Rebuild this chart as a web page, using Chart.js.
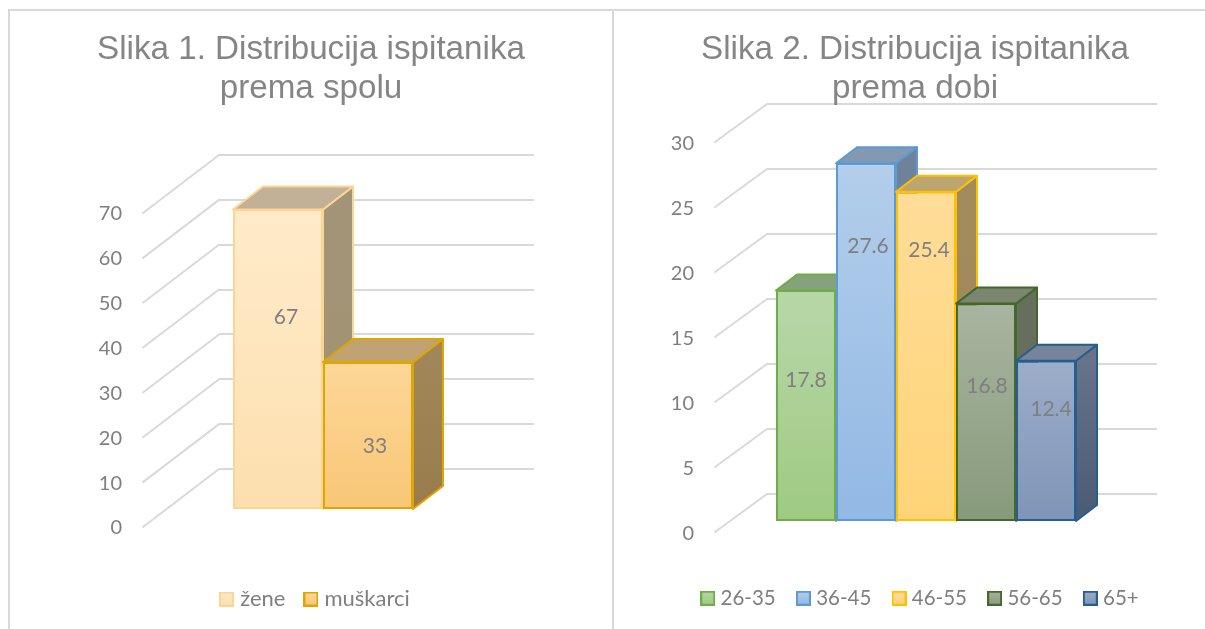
<!DOCTYPE html>
<html><head><meta charset="utf-8">
<script src="https://cdn.jsdelivr.net/npm/chart.js@4"></script>
<style>
html,body{margin:0;padding:0;background:#fff;width:1205px;height:629px;overflow:hidden;position:relative}
canvas{position:absolute;top:0}
.rule{position:absolute;background:#d9d9d9}
</style></head><body>
<div class="rule" style="left:8px;top:9px;width:1197px;height:2px"></div>
<div class="rule" style="left:8px;top:9px;width:2px;height:620px"></div>
<div class="rule" style="left:612px;top:9px;width:2px;height:620px"></div>
<div style="position:absolute;left:10px;top:11px;width:602px;height:618px;overflow:hidden"><canvas id="c1" style="left:-10px;top:-11px" width="622" height="629"></canvas></div>
<div style="position:absolute;left:614px;top:11px;width:591px;height:618px;overflow:hidden"><canvas id="c2" style="left:0;top:-11px" width="602" height="629"></canvas></div>
<script>
// ---- data ----
const title1 = ['Slika 1. Distribucija ispitanika', 'prema spolu'];
const categories1 = ['Spol'];
const seriesNames1 = ['žene', 'muškarci'];
const seriesValues1 = [67, 33];
const title2 = ['Slika 2. Distribucija ispitanika', 'prema dobi'];
const categories2 = ['Dob'];
const seriesNames2 = ['26-35', '36-45', '46-55', '56-65', '65+'];
const seriesValues2 = [17.8, 27.6, 25.4, 16.8, 12.4];
const yTicks1 = [0, 10, 20, 30, 40, 50, 60, 70];
const yTicks2 = [0, 5, 10, 15, 20, 25, 30];

// ---- styles ----
const GREY = '#7f7f7f', GRID = '#d9d9d9';
const LABEL_FONT = '"Lato", sans-serif', TITLE_FONT = '"Liberation Sans", Arial, sans-serif';
const style1 = [
 {top:'#FFEBCA',bot:'#FDDFAE',border:'#FBD592',cap:'#C2B196',side:'#A39477',side2:'#A39273'},
 {top:'#FDD798',bot:'#F8C676',border:'#DFA600',cap:'#C0A273',side:'#A08658',side2:'#9A7C4C'}
];
const style2 = [
 {top:'#B8D7A9',bot:'#9ECA82',border:'#70AD47',cap:'#85A27C',side:'#6F8A5E',side2:'#6F8A5E'},
 {top:'#B3CEEB',bot:'#92B8E4',border:'#5B9BD5',cap:'#8399B2',side:'#6F8299',side2:'#6F8299'},
 {top:'#FFDD98',bot:'#FFD478',border:'#FFC000',cap:'#BDA56F',side:'#A28C5E',side2:'#9E8858'},
 {top:'#A8B5A0',bot:'#87997B',border:'#43682B',cap:'#7C8570',side:'#666F5E',side2:'#666F5E'},
 {top:'#9DADC9',bot:'#7F94B7',border:'#255E91',cap:'#77849A',side:'#667389',side2:'#4B5A73'}
];

function legendSwatch(s){
  const c = document.createElement('canvas'); c.width = 15; c.height = 15;
  const x = c.getContext('2d');
  const g = x.createLinearGradient(0,0,0,15); g.addColorStop(0,s.top); g.addColorStop(1,s.bot);
  x.fillStyle = g; x.fillRect(1,1,13,13);
  x.strokeStyle = s.border; x.lineWidth = 2; x.strokeRect(1,1,13,13);
  return c;
}

function makeChart(id, cfg){
  const styles = cfg.styles;
  const datasets = cfg.names.map((n,i)=>({
    label:n, data:[cfg.values[i]],
    backgroundColor(ctx){
      const c = ctx.chart, s = c.scales.y;
      if(!s || !c.chartArea) return styles[i].top;
      const g = c.ctx.createLinearGradient(0,s.getPixelForValue(cfg.values[i]),0,s.getPixelForValue(0));
      g.addColorStop(0,styles[i].top); g.addColorStop(1,styles[i].bot);
      return g;
    },
    borderColor:styles[i].border, borderWidth:2, borderSkipped:false,
    categoryPercentage:cfg.catPct, barPercentage:1
  }));
  const bars3d = {
    id:'bars3d',
    afterLayout(chart){
      const t = chart.titleBlock, l = chart.legend;
      t.left = 0; t.right = cfg.titleCentre*2; t.top = cfg.titleTop; t.bottom = t.top + t.height;
      const w = l.right - l.left;
      l.left = cfg.legendCentre - w/2; l.right = l.left + w;
      l.top = cfg.legendRowTop - cfg.legendPad; l.bottom = l.top + l.height;
    },
    beforeDatasetDraw(){ return false; },
    beforeDatasetsDraw(chart){
      const {ctx,chartArea:a,scales:{y}} = chart;
      ctx.save(); ctx.strokeStyle = GRID; ctx.lineWidth = 2; ctx.lineCap='round';
      y.ticks.forEach(t=>{
        const p = y.getPixelForValue(t.value);
        ctx.beginPath(); ctx.moveTo(a.left,p); ctx.lineTo(a.left-cfg.wallDx,p+cfg.wallDy); ctx.stroke();
      });
      ctx.restore();
    },
    afterDatasetsDraw(chart){
      const ctx = chart.ctx;
      ctx.save();
      ctx.translate(cfg.shiftX,cfg.shiftY);
      const dx = cfg.depthX, dy = cfg.depthY;
      cfg.names.forEach((n,i)=>{
        const meta = chart.getDatasetMeta(i), b = meta.data[0], s = styles[i];
        const L = b.x-b.width/2, R = b.x+b.width/2, T = b.y, B = b.base;
        ctx.lineWidth = 2; ctx.strokeStyle = s.border; ctx.lineJoin='round';
        const g = ctx.createLinearGradient(0,T,0,B);
        g.addColorStop(0,s.side); g.addColorStop(1,s.side2);
        ctx.fillStyle = g;
        ctx.beginPath(); ctx.moveTo(R,T); ctx.lineTo(R+dx,T-dy); ctx.lineTo(R+dx,B-dy); ctx.lineTo(R,B); ctx.closePath(); ctx.fill(); ctx.stroke();
        ctx.fillStyle = s.cap;
        ctx.beginPath(); ctx.moveTo(L,T); ctx.lineTo(L+dx,T-dy); ctx.lineTo(R+dx,T-dy); ctx.lineTo(R,T); ctx.closePath(); ctx.fill(); ctx.stroke();
        meta.controller.draw();
      });
      ctx.fillStyle = GREY; ctx.font = '21px '+LABEL_FONT; ctx.textAlign='center'; ctx.textBaseline='middle';
      cfg.names.forEach((n,i)=>{
        const b = chart.getDatasetMeta(i).data[0];
        const nudge = cfg.labelNudge[i];
        ctx.fillText(String(cfg.values[i]), b.x+nudge[0], (b.y+b.base)/2+nudge[1]);
      });
      ctx.restore();
    }
  };
  return new Chart(document.getElementById(id),{
    type:'bar',
    data:{labels:cfg.categories,datasets},
    plugins:[bars3d],
    options:{
      responsive:false,animation:false,
      layout:{padding:{left:cfg.padLeft,right:cfg.padRight,top:cfg.areaTop-cfg.titleH,bottom:cfg.below-(cfg.legendSize+cfg.legendPad+10)}},
      scales:{
        x:{display:false,grid:{display:false}},
        y:{min:0,max:cfg.yTicks[cfg.yTicks.length-1],
          afterFit(s){s.width=cfg.axisW;},
          afterBuildTicks(s){s.ticks=cfg.yTicks.map(v=>({value:v}));},
          grid:{color:GRID,lineWidth:2,drawTicks:false},
          border:{display:false},
          ticks:{color:GREY,font:{family:LABEL_FONT,size:20},padding:cfg.tickPad,labelOffset:cfg.wallDy+cfg.tickDrop}
        }
      },
      plugins:{
        tooltip:{enabled:false},
        title:{display:true,text:cfg.title,color:'#858585',padding:0,
          font:{family:TITLE_FONT,size:33.2,weight:'normal',lineHeight:39/33.2}},
        legend:{display:true,position:'bottom',
          labels:{usePointStyle:true,pointStyleWidth:5,padding:cfg.legendPad,color:GREY,font:{family:LABEL_FONT,size:cfg.legendSize},
            generateLabels(){return cfg.names.map((n,i)=>({text:n,pointStyle:legendSwatch(styles[i]),fillStyle:styles[i].top,strokeStyle:styles[i].border,lineWidth:0,datasetIndex:i,fontColor:GREY}));}
          }
        }
      }
    }
  });
}

makeChart('c1',{
  title:title1,categories:categories1,names:seriesNames1,values:seriesValues1,yTicks:yTicks1,styles:style1,
  catPct:180/315,padLeft:59,padRight:88,axisW:160,tickPad:97,tickDrop:1,areaTop:155,titleH:78,below:160,
  titleTop:30,titleCentre:311,legendCentre:317,legendRowTop:588,legendPad:23,legendSize:22,
  wallDx:76,wallDy:58,shiftX:-53.5,shiftY:41,depthX:30,depthY:23,
  labelNudge:[[8,-41.5],[7,11]]
});
makeChart('c2',{
  title:title2,categories:categories2,names:seriesNames2,values:seriesValues2,yTicks:yTicks2,styles:style2,
  catPct:300/390,padLeft:13,padRight:59,axisW:140,tickPad:73,tickDrop:2,areaTop:104,titleH:78,below:135,
  titleTop:30,titleCentre:301,legendCentre:308,legendRowTop:588,legendPad:25.2,legendSize:20.5,
  wallDx:52,wallDy:38,shiftX:-36,shiftY:28,depthX:21,depthY:16,
  labelNudge:[[0,-26],[2,-96],[3,-106.5],[1,-26.5],[5,-31.5]]
});
</script>
</body></html>
